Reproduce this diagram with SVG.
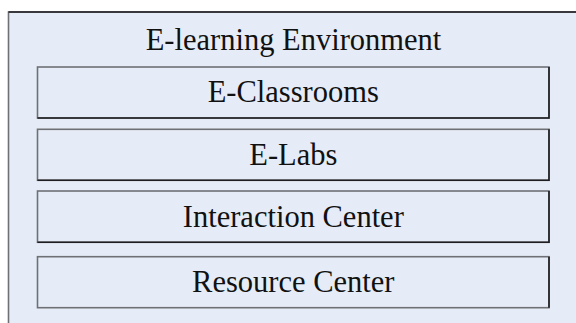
<svg xmlns="http://www.w3.org/2000/svg" width="576" height="323" viewBox="0 0 576 323">
<style>
  .bg { fill: #FFFFFF; }
  .panel { fill: #E6ECF7; stroke: #6F7075; stroke-width: 1.6; }
  .box { fill: #E6ECF7; stroke: #6F7075; stroke-width: 1.6; }
  .shade { fill: none; stroke: #1E1E22; stroke-width: 1.6; }
  .lbl { font-family: "Liberation Serif", "Times New Roman", serif; font-size: 30.5px; fill: #111111; text-anchor: middle; }
</style>
<rect class="bg" x="0" y="0" width="576" height="323"/>
<g id="environment">
  <rect class="panel" x="8.5" y="12" width="700" height="400"/>
  <line class="shade" x1="8.5" y1="12" x2="576" y2="12"/>
  <text class="lbl" x="293.5" y="50">E-learning Environment</text>
</g>
<g id="connectors"></g>
<g id="e-classrooms">
  <rect class="box" x="37.5" y="67" width="511.5" height="51"/>
  <path class="shade" d="M37.5 118 H549 V67"/>
  <text class="lbl" x="293.3" y="102">E-Classrooms</text>
</g>
<g id="e-labs">
  <rect class="box" x="37.5" y="129.3" width="511.5" height="51"/>
  <path class="shade" d="M37.5 180.3 H549 V129.3"/>
  <text class="lbl" x="293.3" y="165">E-Labs</text>
</g>
<g id="interaction-center">
  <rect class="box" x="37.5" y="191" width="511.5" height="51.3"/>
  <path class="shade" d="M37.5 242.3 H549 V191"/>
  <text class="lbl" x="293.3" y="226.5">Interaction Center</text>
</g>
<g id="resource-center">
  <rect class="box" x="37.5" y="256.7" width="511.5" height="51"/>
  <path class="shade" d="M549 307.7 V256.7"/>
  <text class="lbl" x="293.3" y="292">Resource Center</text>
</g>
</svg>
